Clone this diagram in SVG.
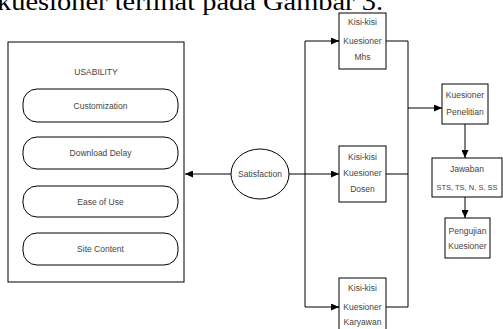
<svg xmlns="http://www.w3.org/2000/svg" width="503" height="329" viewBox="0 0 503 329">
<defs>
<marker id="ah" markerWidth="8" markerHeight="7" refX="8" refY="3.5" orient="auto" markerUnits="userSpaceOnUse">
<path d="M0,0 L8,3.5 L0,7 Z" fill="#000"/>
</marker>
<style>
.ln{fill:none;stroke:#000;stroke-width:1}
.bx{fill:#fff;stroke:#000;stroke-width:1}
.t{font-family:"Liberation Sans",Arial,sans-serif;font-size:8.5px;fill:#444;text-anchor:middle}
.s{font-size:7.5px}
.title{font-family:"Liberation Serif","Times New Roman",serif;font-size:26px;fill:#000}
</style>
</defs>
<rect width="503" height="329" fill="#fff"/>
<text class="title" x="-3" y="10" textLength="386" lengthAdjust="spacingAndGlyphs">kuesioner terlihat pada Gambar 3.</text>

<g id="connectors">
<line class="ln" x1="231" y1="174" x2="185" y2="174" marker-end="url(#ah)"/>
<line class="ln" x1="289" y1="174" x2="339" y2="174" marker-end="url(#ah)"/>
<polyline class="ln" points="339,41 305,41 305,307 339,307"/>
<line class="ln" x1="331" y1="41" x2="339" y2="41" marker-end="url(#ah)"/>
<line class="ln" x1="331" y1="307" x2="339" y2="307" marker-end="url(#ah)"/>
<polyline class="ln" points="386,41 408,41 408,307 386,307"/>
<line class="ln" x1="386" y1="174" x2="408" y2="174"/>
<line class="ln" x1="408" y1="108" x2="442" y2="108" marker-end="url(#ah)"/>
<line class="ln" x1="465" y1="124" x2="465" y2="158" marker-end="url(#ah)"/>
<line class="ln" x1="465" y1="197" x2="465" y2="218" marker-end="url(#ah)"/>
</g>

<g id="usability">
<rect class="bx" x="8" y="42" width="176" height="240"/>
<text class="t" x="96" y="75">USABILITY</text>
</g>
<g id="customization">
<rect class="bx" x="23" y="89" width="155" height="33" rx="14" ry="14"/>
<text class="t" x="100.5" y="108.5">Customization</text>
</g>
<g id="download-delay">
<rect class="bx" x="23" y="137" width="155" height="32" rx="14" ry="14"/>
<text class="t" x="100.5" y="156">Download Delay</text>
</g>
<g id="ease-of-use">
<rect class="bx" x="23" y="186" width="155" height="31" rx="14" ry="14"/>
<text class="t" x="100.5" y="204.5">Ease of Use</text>
</g>
<g id="site-content">
<rect class="bx" x="23" y="233" width="155" height="32" rx="14" ry="14"/>
<text class="t" x="100.5" y="252">Site Content</text>
</g>

<g id="satisfaction">
<ellipse class="bx" cx="260" cy="174" rx="29" ry="25"/>
<text class="t" x="260" y="177">Satisfaction</text>
</g>

<g id="kisi-mhs">
<rect class="bx" x="339" y="13" width="47" height="56"/>
<text class="t" x="362.5" y="25">Kisi-kisi</text>
<text class="t" x="362.5" y="44">Kuesioner</text>
<text class="t" x="362.5" y="60">Mhs</text>
</g>
<g id="kisi-dosen">
<rect class="bx" x="339" y="146" width="47" height="56"/>
<text class="t" x="362.5" y="160">Kisi-kisi</text>
<text class="t" x="362.5" y="176">Kuesioner</text>
<text class="t" x="362.5" y="192">Dosen</text>
</g>
<g id="kisi-karyawan">
<rect class="bx" x="339" y="278" width="47" height="56"/>
<text class="t" x="362.5" y="291">Kisi-kisi</text>
<text class="t" x="362.5" y="310">Kuesioner</text>
<text class="t" x="362.5" y="325">Karyawan</text>
</g>

<g id="kuesioner-penelitian">
<rect class="bx" x="442" y="84" width="46" height="40"/>
<text class="t" x="465" y="98">Kuesioner</text>
<text class="t" x="465" y="115">Penelitian</text>
</g>
<g id="jawaban">
<rect class="bx" x="432" y="158" width="70" height="39"/>
<text class="t" x="467" y="172">Jawaban</text>
<text class="t s" x="467" y="190">STS, TS, N, S, SS</text>
</g>
<g id="pengujian">
<rect class="bx" x="445" y="218" width="45" height="40"/>
<text class="t" x="467.5" y="234">Pengujian</text>
<text class="t" x="467.5" y="249">Kuesioner</text>
</g>
</svg>
